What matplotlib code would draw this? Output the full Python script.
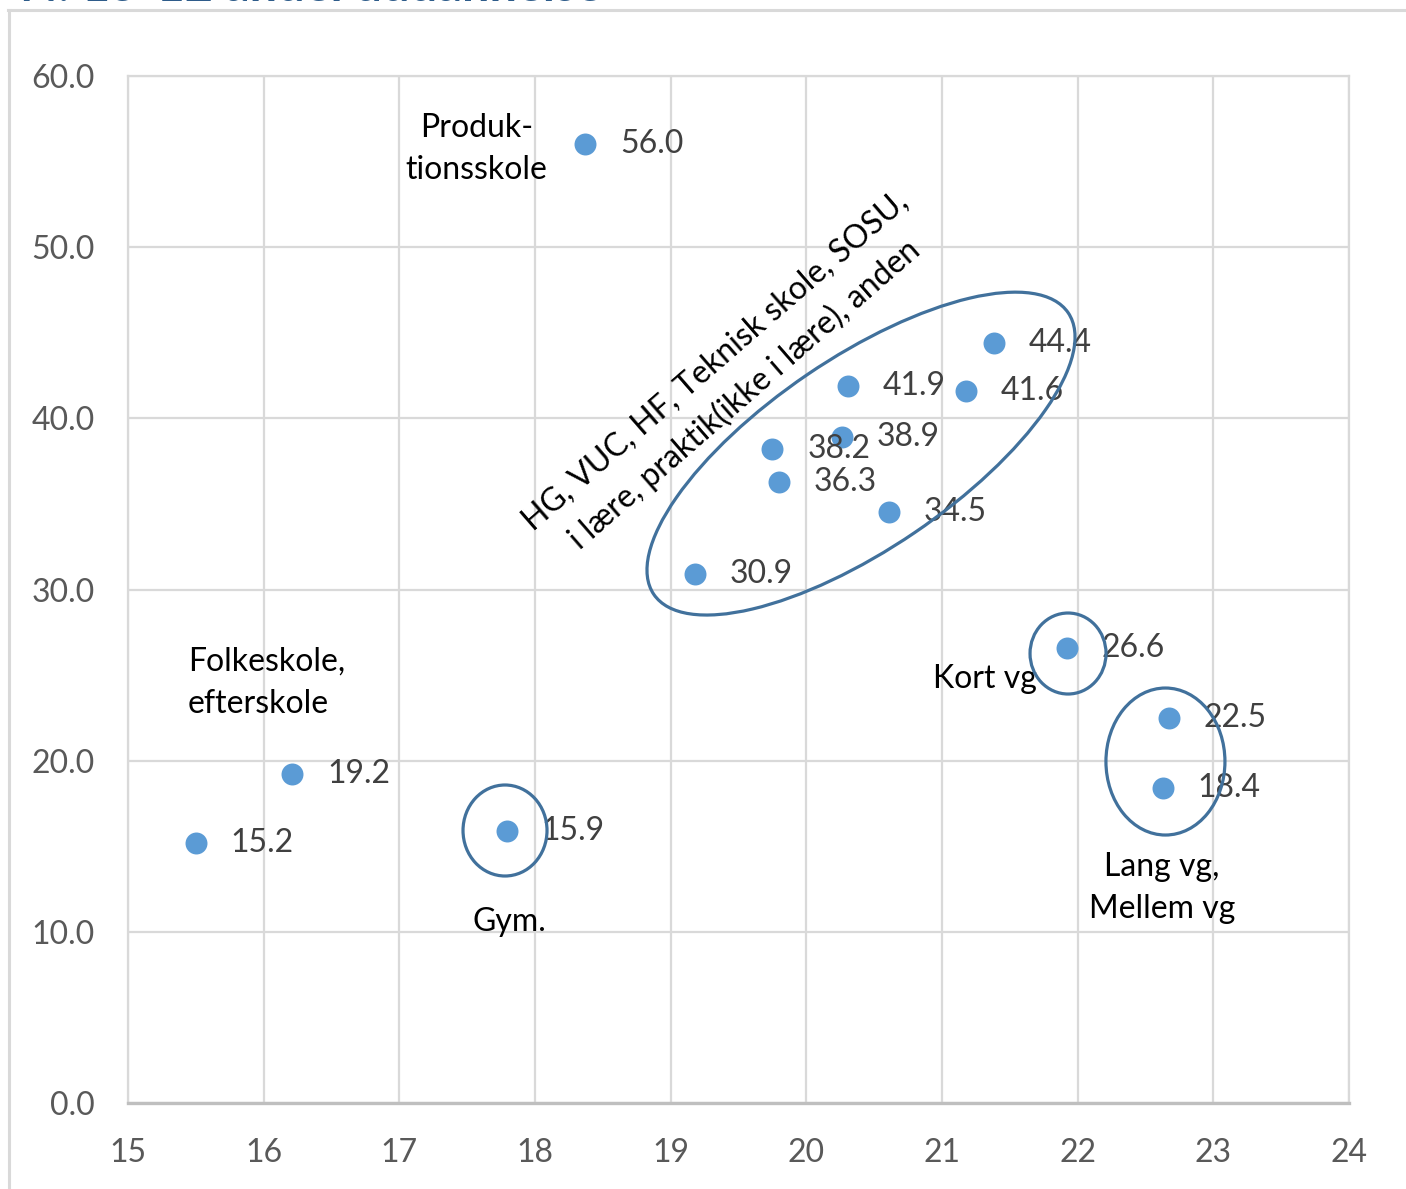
import matplotlib.pyplot as plt
import matplotlib.transforms as mtransforms
from matplotlib.patches import Ellipse
from matplotlib.lines import Line2D

plt.rcParams['font.family'] = ['Lato', 'DejaVu Sans']

# data
x_vals = [15.50, 16.21, 17.79, 18.37, 19.18, 19.75, 19.80, 20.26, 20.31, 20.61, 21.18, 21.38, 21.92, 22.67, 22.63]
y_vals = [15.2, 19.2, 15.9, 56.0, 30.9, 38.2, 36.3, 38.9, 41.9, 34.5, 41.6, 44.4, 26.6, 22.5, 18.4]

x_ticks = [15, 16, 17, 18, 19, 20, 21, 22, 23, 24]
y_ticks = [0, 10, 20, 30, 40, 50, 60]

# group labels: text, x, y, alignment, rotation
group_labels = [
    ("Produk-\ntionsskole", 17.57, 55.73, 'center', 0),
    ("Folkeskole,\nefterskole", 15.44, 24.54, 'left', 0),
    ("Gym.", 17.81, 10.57, 'center', 0),
    ("Kort vg", 21.32, 24.77, 'center', 0),
    ("Lang vg,\nMellem vg", 22.62, 12.59, 'center', 0),
    ("HG, VUC, HF, Teknisk skole, SOSU,\ni lære, praktik(ikke i lære), anden", 19.44, 42.36, 'center', 41),
]

# ellipses: centre (data), width/height (inches), angle
ellipses = [
    (20.403, 37.94, 5.01, 1.91, 34.2),
    (21.929, 26.26, 0.76, 0.81, 0),
    (22.647, 19.95, 1.19, 1.47, 0),
    (17.779, 15.92, 0.84, 0.91, 0),
]

grid_col = '#D9D9D9'
fs = 23
fig = plt.figure(figsize=(14.06, 11.89), dpi=100)
ax = fig.add_axes([128 / 1406, 1 - 1103 / 1189, (1349 - 128) / 1406, (1103 - 76) / 1189])

ax.set_xlim(15, 24)
ax.set_ylim(0, 60)
ax.set_xticks(x_ticks)
ax.set_yticks(y_ticks)
ax.set_yticklabels([f"{v:.1f}" for v in y_ticks])
ax.tick_params(length=0, labelsize=fs, labelcolor='#595959')
ax.tick_params(axis='y', pad=24)
ax.tick_params(axis='x', pad=25)
ax.grid(True, color=grid_col, linewidth=1.6)
ax.set_axisbelow(True)
for s in ['left', 'top', 'right']:
    ax.spines[s].set_color(grid_col)
    ax.spines[s].set_linewidth(1.6)
ax.spines['bottom'].set_color('#BFBFBF')
ax.spines['bottom'].set_linewidth(2.4)

ax.scatter(x_vals, y_vals, s=250, color='#5B9BD5', zorder=3, linewidths=0)
for x, y in zip(x_vals, y_vals):
    ax.annotate(f"{y:.1f}", (x, y), xytext=(25, 0), textcoords='offset points',
                ha='left', va='center', fontsize=fs, color='#404040', zorder=4)

for txt, x, y, ha, rot in group_labels:
    ax.text(x, y, txt, ha=ha, va='center', fontsize=fs, color='black',
            rotation=rot, rotation_mode='anchor', multialignment=ha, linespacing=1.5)

for cx, cy, w, h, ang in ellipses:
    tr = fig.dpi_scale_trans + mtransforms.ScaledTranslation(cx, cy, ax.transData)
    e = Ellipse((0, 0), w, h, angle=ang, transform=tr, fill=False,
                edgecolor='#41719C', linewidth=2.3, zorder=5)
    ax.add_patch(e)

# outer chart frame
fig.add_artist(Line2D([8 / 1406, 1], [1 - 10 / 1189] * 2, transform=fig.transFigure,
                      color=grid_col, linewidth=2.2))
fig.add_artist(Line2D([9 / 1406] * 2, [0, 1 - 10 / 1189], transform=fig.transFigure,
                      color=grid_col, linewidth=2.2))

# title, clipped at top edge as in the original
fig.text(20 / 1406, 1 - 1 / 1189, "N: 15-12 andel uddannelse", ha='left', va='baseline',
         fontsize=35, color='#2E5C8A', fontweight='bold')

fig.savefig('out.png', dpi=100)
